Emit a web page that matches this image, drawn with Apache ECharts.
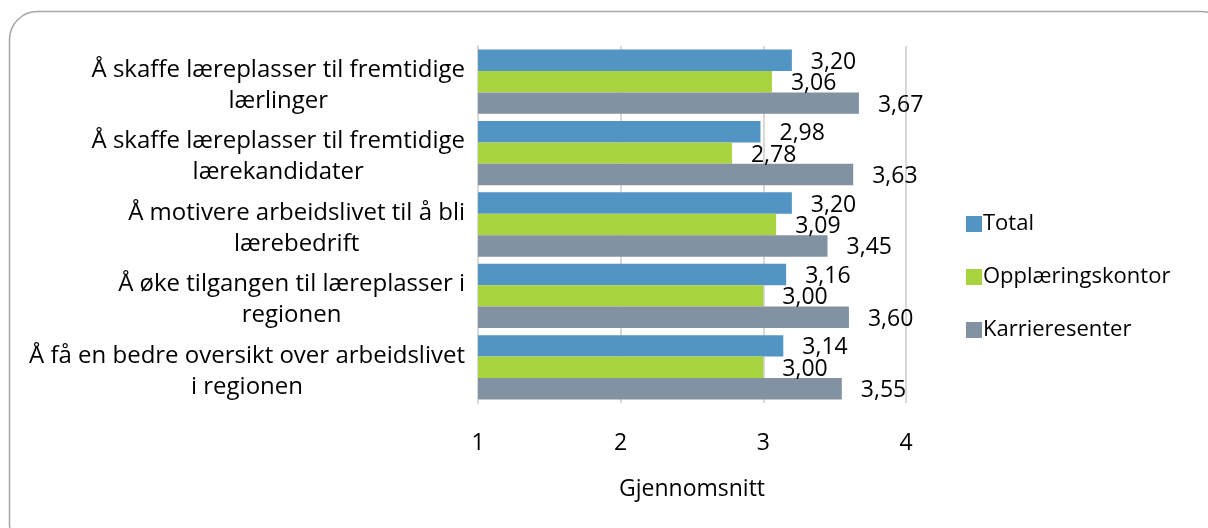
<!DOCTYPE html>
<html>
<head>
<meta charset="utf-8">
<script src="https://cdn.jsdelivr.net/npm/echarts@6/dist/echarts.min.js"></script>
<style>
  html, body { margin: 0; padding: 0; background: #fff; }
  #chart { width: 1208px; height: 528px; }
</style>
</head>
<body>
<div id="chart"></div>
<script>
// data
const categories = [
  "Å skaffe læreplasser til fremtidige\nlærlinger",
  "Å skaffe læreplasser til fremtidige\nlærekandidater",
  "Å motivere arbeidslivet til å bli\nlærebedrift",
  "Å øke tilgangen til læreplasser i\nregionen",
  "Å få en bedre oversikt over arbeidslivet\ni regionen"
];
const seriesNames = ["Total", "Opplæringskontor", "Karrieresenter"];
const totalValues = [3.20, 2.98, 3.20, 3.16, 3.14];
const kontorValues = [3.06, 2.78, 3.09, 3.00, 3.00];
const senterValues = [3.67, 3.63, 3.45, 3.60, 3.55];
const colors = ["#5294C3", "#A9D33F", "#8392A2"];

const font = "'Open Sans', sans-serif";
const chart = echarts.init(document.getElementById("chart"));

function makeSeries(name, data, color) {
  return {
    name: name,
    type: "bar",
    data: data,
    barGap: "0%",
    barCategoryGap: "10%",
    itemStyle: { color: color },
    label: {
      show: true,
      position: "right",
      distance: 19,
      offset: [0, 2],
      color: "#000",
      fontFamily: font,
      fontSize: 23,
      formatter: (p) => p.value.toFixed(2).replace(".", ",")
    }
  };
}

chart.setOption({
  backgroundColor: "#fff",
  animation: false,
  textStyle: { fontFamily: font },
  graphic: [
    {
      type: "rect",
      shape: { x: 9.5, y: 11.5, width: 1220, height: 540, r: 28 },
      style: { fill: "none", stroke: "#a6a6a6", lineWidth: 1.5 },
      z: -1
    }
  ],
  grid: { left: 478, right: 302, top: 46, bottom: 125 },
  legend: {
    orient: "vertical",
    left: 961,
    top: 206,
    itemWidth: 16,
    itemHeight: 16,
    itemGap: 27,
    icon: "rect",
    textStyle: { fontFamily: font, fontSize: 22, color: "#000", padding: [0, 0, 0, -4], lineHeight: 26 },
    data: seriesNames
  },
  xAxis: {
    type: "value",
    min: 1,
    max: 4,
    interval: 1,
    name: "Gjennomsnitt",
    nameLocation: "middle",
    nameGap: 72,
    nameTextStyle: { fontFamily: font, fontSize: 23, color: "#000", lineHeight: 28 },
    axisLine: { show: false },
    axisTick: { show: false },
    axisLabel: { fontFamily: font, fontSize: 23, color: "#000", margin: 26, lineHeight: 28 },
    splitLine: { show: true, lineStyle: { color: "#d9d9d9", width: 2 } }
  },
  yAxis: {
    type: "category",
    inverse: true,
    data: categories,
    axisLine: { show: true, lineStyle: { color: "#d9d9d9", width: 2 } },
    axisTick: { show: false },
    axisLabel: {
      color: "#000",
      margin: 13,
      align: "right",
      padding: [8, 0, 0, 0],
      // each line centred inside the right-aligned block
      formatter: (v) => v.split("\n").map((l) => "{c|" + l + "}").join("\n"),
      rich: {
        c: { fontFamily: font, fontSize: 24, color: "#000", lineHeight: 31, align: "center" }
      }
    }
  },
  series: [
    makeSeries(seriesNames[0], totalValues, colors[0]),
    makeSeries(seriesNames[1], kontorValues, colors[1]),
    makeSeries(seriesNames[2], senterValues, colors[2])
  ]
});
</script>
</body>
</html>
